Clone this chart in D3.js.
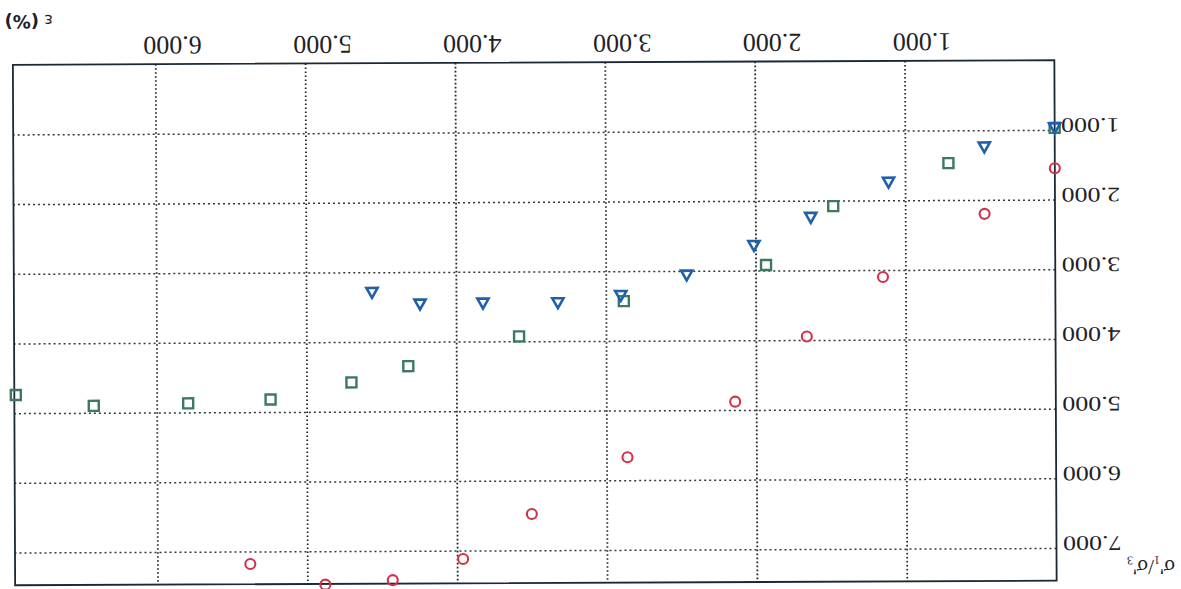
<!DOCTYPE html>
<html>
<head>
<meta charset="utf-8">
<script src="https://cdn.jsdelivr.net/npm/d3@7"></script>
<style>
  html, body { margin: 0; padding: 0; background: #ffffff; }
  svg { display: block; }
</style>
</head>
<body>
<div id="chart"></div>
<script>
// ---- data (strain ε in %, stress ratio σ'1/σ'3) ----
const xTicks = [1, 2, 3, 4, 5, 6];
const xTickLabels = ["1.000", "2.000", "3.000", "4.000", "5.000", "6.000"];
const yTicks = [1, 2, 3, 4, 5, 6, 7];
const yTickLabels = ["1.000", "2.000", "3.000", "4.000", "5.000", "6.000", "7.000"];

const circleStrain = [0.0, 0.47, 1.15, 1.66, 2.14, 2.86, 3.50, 3.96, 4.43, 4.88, 5.38];
const circleRatio  = [1.55, 2.20, 3.10, 3.95, 4.88, 5.67, 6.48, 7.12, 7.42, 7.48, 7.18];

const squareStrain = [0.0, 0.71, 1.48, 1.93, 2.88, 3.58, 4.32, 4.70, 5.24, 5.79, 6.42, 6.94];
const squareRatio  = [0.97, 1.47, 2.08, 2.92, 3.43, 3.93, 4.35, 4.58, 4.82, 4.87, 4.90, 4.74];

const triangleStrain = [0.0, 0.47, 1.11, 1.63, 2.01, 2.46, 2.90, 3.32, 3.82, 4.24, 4.56];
const triangleRatio  = [0.97, 1.24, 1.74, 2.24, 2.64, 3.06, 3.35, 3.45, 3.45, 3.46, 3.29];

const xTitle = "ε (%)";

(function () {
// ---- layout (picture is shown rotated by 180°) ----
const W = 1181, H = 589;
const pL = 14, pR = 1055.5, pT = 62.5, pB = 583;

const svg = d3.select("#chart").append("svg")
  .attr("width", W).attr("height", H);

const root = svg.append("g")
  .attr("transform", "rotate(-0.25, 535, 322)");

// Reversed scales (chart turned upside down)
const x = d3.scaleLinear().domain([0, 6.95]).range([pR, pL]);
const y = d3.scaleLinear().domain([0, 7.47]).range([pT, pB]);

// vertical grid + tick labels (x axis, shown at top)
const gx = root.append("g").attr("transform", `translate(0,${pT})`)
  .call(d3.axisTop(x).tickValues(xTicks)
    .tickFormat((d, i) => xTickLabels[i])
    .tickSize(-(pB - pT)));
gx.select(".domain").remove();
gx.selectAll(".tick line")
  .attr("stroke", "#22262c").attr("stroke-width", 1.8)
  .attr("stroke-dasharray", "1.6,2.4");
gx.selectAll(".tick text")
  .attr("x", 0).attr("y", 0).attr("dy", null)
  .attr("text-anchor", "middle")
  .attr("font-family", "'Liberation Serif', 'DejaVu Serif', serif")
  .attr("font-size", 26)
  .attr("fill", "#1e2228")
  .attr("transform", `translate(17,${35 - pT}) rotate(180)`);

// horizontal grid + tick labels (y axis, shown at right)
const gy = root.append("g").attr("transform", `translate(${pR},0)`)
  .call(d3.axisRight(y).tickValues(yTicks)
    .tickFormat((d, i) => yTickLabels[i])
    .tickSize(-(pR - pL)));
gy.select(".domain").remove();
gy.selectAll(".tick line")
  .attr("stroke", "#33383f").attr("stroke-width", 1.5)
  .attr("stroke-dasharray", "2,3");
gy.selectAll(".tick text")
  .attr("x", 0).attr("y", 0).attr("dy", null)
  .attr("text-anchor", "end")
  .attr("font-family", "'Liberation Serif', 'DejaVu Serif', serif")
  .attr("font-size", 26)
  .attr("fill", "#1e2228")
  .attr("transform", `translate(${1062 - pR},-12) rotate(180) scale(1,0.8)`);

// frame
root.append("rect")
  .attr("x", pL).attr("y", pT)
  .attr("width", pR - pL).attr("height", pB - pT)
  .attr("fill", "none").attr("stroke", "#1c2836").attr("stroke-width", 1.8);

// ---- markers ----
const red = "#d1324a", green = "#3b7a5e", blue = "#2160a9";

root.append("g").selectAll("circle")
  .data(d3.range(circleStrain.length)).join("circle")
  .attr("cx", i => x(circleStrain[i]))
  .attr("cy", i => y(circleRatio[i]))
  .attr("r", 5)
  .attr("fill", "none").attr("stroke", red).attr("stroke-width", 2.1);

root.append("g").selectAll("rect")
  .data(d3.range(squareStrain.length)).join("rect")
  .attr("x", i => x(squareStrain[i]) - 5)
  .attr("y", i => y(squareRatio[i]) - 5)
  .attr("width", 10).attr("height", 10)
  .attr("fill", "none").attr("stroke", green).attr("stroke-width", 2.4);

root.append("g").selectAll("path")
  .data(d3.range(triangleStrain.length)).join("path")
  .attr("d", "M-5.6,-4.5 L5.6,-4.5 L0,5.4 Z")
  .attr("transform", i => `translate(${x(triangleStrain[i])},${y(triangleRatio[i])})`)
  .attr("fill", "none").attr("stroke", blue).attr("stroke-width", 2.6)
  .attr("stroke-linejoin", "miter");

// ---- axis titles (upside down) ----
const tx = root.append("text")
  .attr("transform", "translate(54,13) rotate(180)")
  .attr("font-family", "'DejaVu Sans', sans-serif")
  .attr("fill", "#1e2228");
tx.append("tspan").attr("font-size", 16).text(xTitle.split(" ")[0] + " ");
tx.append("tspan").attr("font-size", 18).attr("font-weight", "bold").text(xTitle.split(" ")[1]);

const ty = root.append("text")
  .attr("transform", "translate(1174,563) rotate(180)")
  .attr("font-family", "'Liberation Serif', 'DejaVu Serif', serif")
  .attr("font-size", 21)
  .attr("fill", "#1e2228");
ty.append("tspan").text("σ'");
ty.append("tspan").attr("font-size", 12).attr("dy", 4).text("1");
ty.append("tspan").attr("dy", -4).text("/σ'");
ty.append("tspan").attr("font-size", 12).attr("dy", 4).text("3");
})();
</script>
</body>
</html>
